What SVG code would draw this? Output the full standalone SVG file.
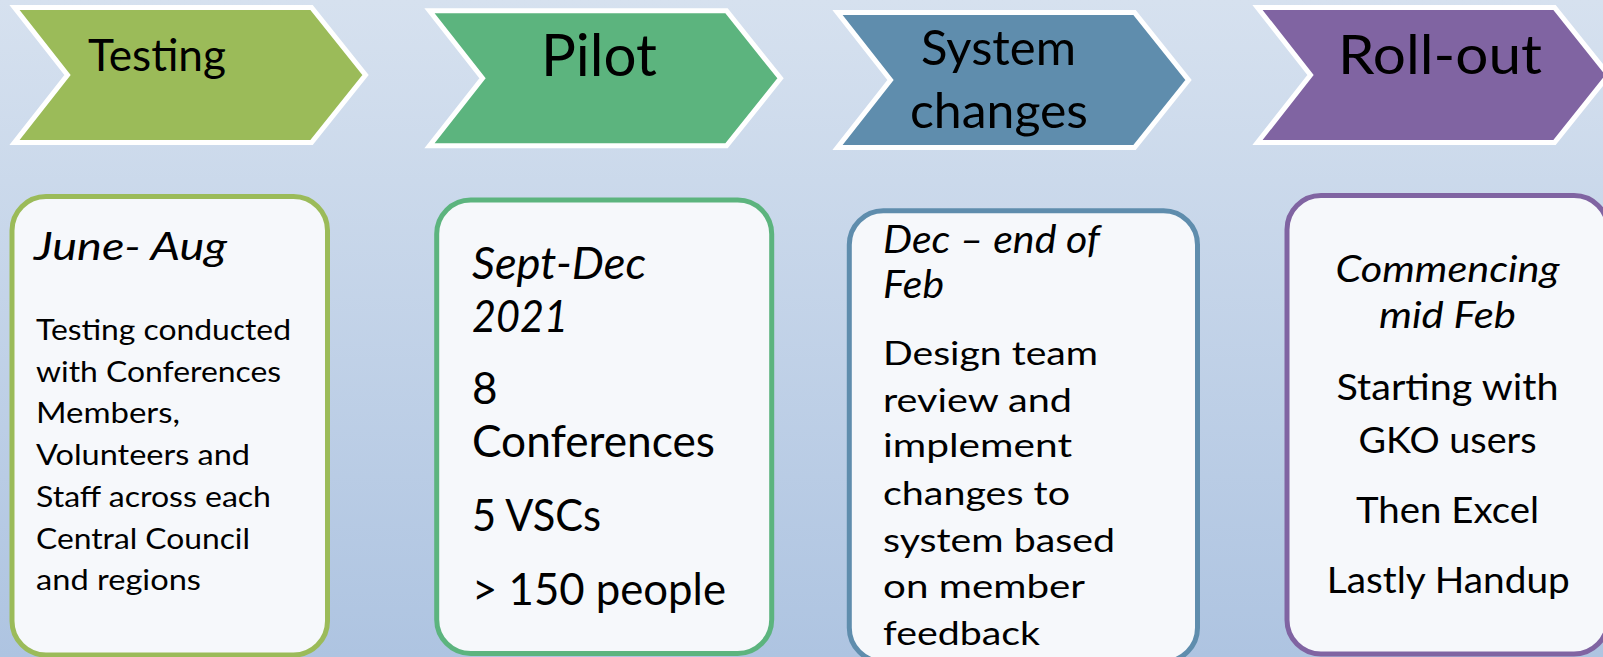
<svg xmlns="http://www.w3.org/2000/svg" width="1603" height="657" viewBox="0 0 1603 657">
  <defs>
    <linearGradient id="bg" x1="0" y1="0" x2="0" y2="1">
      <stop offset="0" stop-color="#D6E1EF"/>
      <stop offset="1" stop-color="#AEC4E1"/>
    </linearGradient>
    <!-- chevron outline, placed per stage with a translate -->
    <path id="chev" d="M0,0 H297 L351,67.5 L297,135 H0 L53,67.5 Z"/>
  </defs>
  <style>
    .chev { stroke: #FFFFFF; stroke-width: 5; stroke-linejoin: miter; }
    .card { fill: #F6F8FB; stroke-width: 5; }
    text { font-family: Lato, "Open Sans", "Liberation Sans", sans-serif; fill: #000000; }
    .it { font-style: italic; }
    .mid { text-anchor: middle; }
  </style>

  <rect x="0" y="0" width="1603" height="657" fill="url(#bg)"/>

  <!-- Stage 1: Testing -->
  <g id="stage-testing">
    <use href="#chev" class="chev" fill="#9BBB59" transform="translate(14.5,7.5)"/>
    <text x="88" y="71" font-size="44" textLength="138" lengthAdjust="spacingAndGlyphs">Testing</text>
  </g>
  <g id="card-testing">
    <rect class="card" stroke="#9BBB59" x="12" y="196.5" width="315.5" height="458.5" rx="34"/>
    <text class="it" x="34" y="260" font-size="38" textLength="193" lengthAdjust="spacingAndGlyphs">June- Aug</text>
    <g font-size="29">
      <text x="36" y="340" textLength="255" lengthAdjust="spacingAndGlyphs">Testing conducted</text>
      <text x="36" y="381.7" textLength="245" lengthAdjust="spacingAndGlyphs">with Conferences</text>
      <text x="36" y="423.4" textLength="144" lengthAdjust="spacingAndGlyphs">Members,</text>
      <text x="36" y="465.1" textLength="214" lengthAdjust="spacingAndGlyphs">Volunteers and</text>
      <text x="36" y="506.8" textLength="235" lengthAdjust="spacingAndGlyphs">Staff across each</text>
      <text x="36" y="548.5" textLength="214" lengthAdjust="spacingAndGlyphs">Central Council</text>
      <text x="36" y="590.2" textLength="165" lengthAdjust="spacingAndGlyphs">and regions</text>
    </g>
  </g>

  <!-- Stage 2: Pilot -->
  <g id="stage-pilot">
    <use href="#chev" class="chev" fill="#5CB47E" transform="translate(429.5,10.8)"/>
    <text x="541" y="76" font-size="58" textLength="116" lengthAdjust="spacingAndGlyphs">Pilot</text>
  </g>
  <g id="card-pilot">
    <rect class="card" stroke="#5CB47E" x="436.7" y="200" width="335" height="453.5" rx="34"/>
    <g font-size="44">
      <text class="it" x="472" y="279.3" textLength="174" lengthAdjust="spacingAndGlyphs">Sept-Dec</text>
      <text class="it" x="472" y="331.7" textLength="96" lengthAdjust="spacingAndGlyphs">2021</text>
      <text x="472" y="404">8</text>
      <text x="472" y="457.3" textLength="243" lengthAdjust="spacingAndGlyphs">Conferences</text>
      <text x="472" y="530.7" textLength="129" lengthAdjust="spacingAndGlyphs">5 VSCs</text>
      <text x="472" y="605" textLength="254" lengthAdjust="spacingAndGlyphs">&gt; 150 people</text>
    </g>
  </g>

  <!-- Stage 3: System changes -->
  <g id="stage-system">
    <use href="#chev" class="chev" fill="#5F8DAD" transform="translate(837.5,12.5)"/>
    <text x="921" y="65" font-size="47.5" textLength="155" lengthAdjust="spacingAndGlyphs">System</text>
    <text x="910" y="128" font-size="47.5" textLength="178" lengthAdjust="spacingAndGlyphs">changes</text>
  </g>
  <g id="card-system">
    <rect class="card" stroke="#5F8DAD" x="849.3" y="210.8" width="348.2" height="451" rx="34"/>
    <text class="it" x="883" y="253.3" font-size="38" textLength="217" lengthAdjust="spacingAndGlyphs">Dec – end of</text>
    <text class="it" x="883" y="298.3" font-size="38" textLength="61" lengthAdjust="spacingAndGlyphs">Feb</text>
    <g font-size="33.5">
      <text x="883" y="365" textLength="215" lengthAdjust="spacingAndGlyphs">Design team</text>
      <text x="883" y="411.7" textLength="189" lengthAdjust="spacingAndGlyphs">review and</text>
      <text x="883" y="457.3" textLength="189" lengthAdjust="spacingAndGlyphs">implement</text>
      <text x="883" y="505" textLength="187" lengthAdjust="spacingAndGlyphs">changes to</text>
      <text x="883" y="551.7" textLength="232" lengthAdjust="spacingAndGlyphs">system based</text>
      <text x="883" y="598.3" textLength="202" lengthAdjust="spacingAndGlyphs">on member</text>
      <text x="883" y="645" textLength="157" lengthAdjust="spacingAndGlyphs">feedback</text>
    </g>
  </g>

  <!-- Stage 4: Roll-out -->
  <g id="stage-rollout">
    <use href="#chev" class="chev" fill="#8064A2" transform="translate(1257.5,7.5)"/>
    <text x="1338" y="74" font-size="55" textLength="204" lengthAdjust="spacingAndGlyphs">Roll-out</text>
  </g>
  <g id="card-rollout">
    <rect class="card" stroke="#8064A2" x="1287" y="195.5" width="321" height="458.5" rx="34"/>
    <text class="it mid" x="1447.5" y="281.7" font-size="37" textLength="224" lengthAdjust="spacingAndGlyphs">Commencing</text>
    <text class="it mid" x="1447.5" y="328.3" font-size="37" textLength="137" lengthAdjust="spacingAndGlyphs">mid Feb</text>
    <g font-size="36">
      <text class="mid" x="1447.5" y="400" textLength="222" lengthAdjust="spacingAndGlyphs">Starting with</text>
      <text class="mid" x="1447.5" y="452.7" textLength="178" lengthAdjust="spacingAndGlyphs">GKO users</text>
      <text class="mid" x="1447.5" y="522.7" textLength="183" lengthAdjust="spacingAndGlyphs">Then Excel</text>
      <text class="mid" x="1448.3" y="592.7" textLength="243" lengthAdjust="spacingAndGlyphs">Lastly Handup</text>
    </g>
  </g>

  <!-- no connectors between stages -->
  <g id="connectors"/>
</svg>
